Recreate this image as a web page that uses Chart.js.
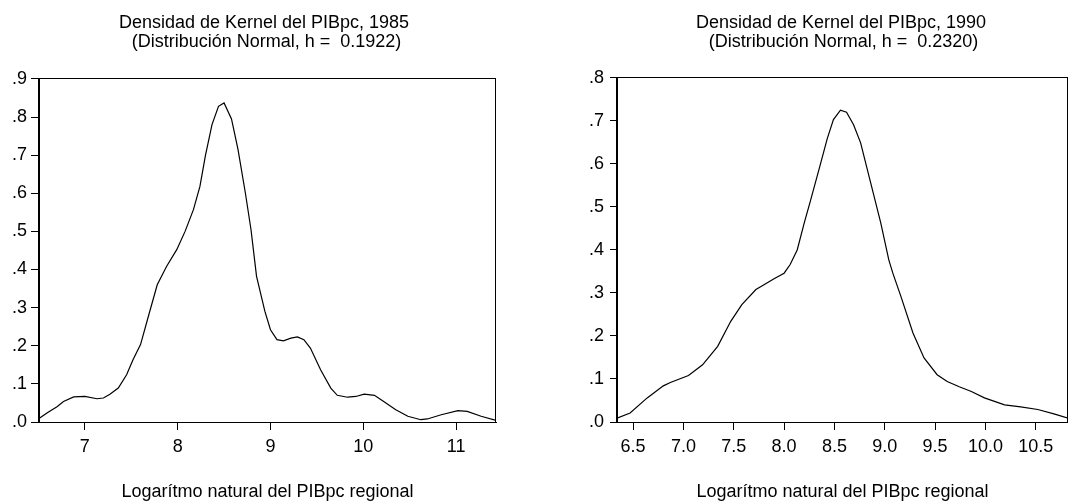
<!DOCTYPE html>
<html>
<head>
<meta charset="utf-8">
<script src="https://cdn.jsdelivr.net/npm/chart.js@4/dist/chart.umd.min.js"></script>
<style>
  html, body { margin: 0; padding: 0; background: #ffffff; }
  #wrap { position: relative; width: 1068px; height: 502px; overflow: hidden; background: #fff; }
  canvas { position: absolute; top: 0; }
</style>
</head>
<body>
<div id="wrap">
  <canvas id="c1" width="534" height="502" style="left:0px"></canvas>
  <canvas id="c2" width="614" height="502" style="left:534px"></canvas>
</div>
<script>
// ---- Data ----
const title1985 = ['Densidad de Kernel del PIBpc, 1985', ' (Distribución Normal, h =  0.1922)'];
const title1990 = ['Densidad de Kernel del PIBpc, 1990', ' (Distribución Normal, h =  0.2320)'];
const xAxisTitle = 'Logarítmo natural del PIBpc regional';

const x1985 = [6.506, 6.6, 6.7, 6.77, 6.88, 7.0, 7.13, 7.2, 7.27, 7.36, 7.45, 7.52, 7.6, 7.69, 7.78, 7.88, 7.99,
  8.08, 8.17, 8.24, 8.30, 8.37, 8.44, 8.50, 8.58, 8.65, 8.73, 8.79, 8.85, 8.94, 9.0, 9.07, 9.14, 9.22, 9.29, 9.36,
  9.43, 9.54, 9.65, 9.72, 9.83, 9.92, 10.01, 10.12, 10.22, 10.35, 10.48, 10.62, 10.69, 10.84, 11.02, 11.12, 11.27, 11.43];
const y1985 = [0.009, 0.025, 0.04, 0.054, 0.066, 0.067, 0.061, 0.063, 0.073, 0.089, 0.124, 0.164, 0.203, 0.282, 0.36, 0.408, 0.452,
  0.50, 0.557, 0.618, 0.70, 0.78, 0.828, 0.837, 0.795, 0.715, 0.60, 0.505, 0.382, 0.29, 0.242, 0.216, 0.213, 0.22, 0.223, 0.216,
  0.194, 0.137, 0.089, 0.07, 0.065, 0.067, 0.073, 0.07, 0.054, 0.032, 0.015, 0.006, 0.008, 0.019, 0.030, 0.028, 0.015, 0.004];

const x1990 = [6.34, 6.47, 6.64, 6.80, 6.87, 7.05, 7.19, 7.34, 7.47, 7.58, 7.72, 7.80, 7.90, 8.0, 8.06, 8.13, 8.20, 8.26,
  8.35, 8.43, 8.49, 8.56, 8.62, 8.69, 8.76, 8.86, 8.96, 9.04, 9.08, 9.16, 9.28, 9.39, 9.52, 9.62, 9.74, 9.86, 9.99,
  10.19, 10.35, 10.52, 10.68, 10.83];
const y1990 = [0.009, 0.021, 0.056, 0.084, 0.092, 0.108, 0.133, 0.176, 0.234, 0.273, 0.308, 0.319, 0.333, 0.346, 0.366, 0.40, 0.463, 0.513,
  0.59, 0.66, 0.703, 0.725, 0.72, 0.691, 0.649, 0.556, 0.463, 0.377, 0.346, 0.292, 0.207, 0.149, 0.11, 0.094, 0.082, 0.071, 0.056,
  0.040, 0.035, 0.029, 0.019, 0.008];

const xTicks1985 = [7, 8, 9, 10, 11];
const yTicks1985 = [0, 0.1, 0.2, 0.3, 0.4, 0.5, 0.6, 0.7, 0.8, 0.9];
const xTicks1990 = [6.5, 7.0, 7.5, 8.0, 8.5, 9.0, 9.5, 10.0, 10.5];
const yTicks1990 = [0, 0.1, 0.2, 0.3, 0.4, 0.5, 0.6, 0.7, 0.8];

// ---- Chart building ----
const FONT = '"Liberation Sans", Arial, Helvetica, sans-serif';

const framePlugin = {
  id: 'frame',
  afterDraw(chart) {
    const a = chart.chartArea, ctx = chart.ctx;
    ctx.save();
    ctx.strokeStyle = '#000';
    ctx.lineWidth = 1;
    const l = Math.round(a.left) - 0.5, t = Math.round(a.top) - 0.5;
    const r = Math.round(a.right) - 0.5, b = Math.round(a.bottom) + 0.5;
    ctx.strokeRect(l, t, r - l, b - t);
    ctx.restore();
  }
};

function makeChart(id, cfg) {
  const pts = cfg.xs.map((x, i) => ({ x: x, y: cfg.ys[i] }));
  return new Chart(document.getElementById(id), {
    type: 'line',
    data: { datasets: [{ data: pts, borderColor: '#000', borderWidth: 1.2, pointRadius: 0, tension: 0, fill: false }] },
    options: {
      responsive: false,
      animation: false,
      devicePixelRatio: 1,
      layout: { padding: { left: 0, right: cfg.padRight, top: 0, bottom: 0 } },
      plugins: {
        legend: { display: false },
        tooltip: { enabled: false },
        title: {
          display: true,
          text: cfg.title,
          color: '#000',
          font: { family: FONT, size: 18, weight: 'normal', lineHeight: 1.08 },
          padding: { top: 13, bottom: cfg.titleBottom }
        }
      },
      scales: {
        x: {
          type: 'linear',
          min: cfg.xmin, max: cfg.xmax,
          afterBuildTicks(s) { s.ticks = cfg.xTicks.map(v => ({ value: v })); },
          afterFit(s) { s.height = 80; },
          grid: { drawOnChartArea: false, drawTicks: true, tickLength: 8, tickColor: '#000', color: '#000' },
          border: { display: true, color: '#000', width: 1 },
          ticks: {
            color: '#000', padding: 8, maxRotation: 0, autoSkip: false,
            font: { family: FONT, size: 18, lineHeight: 1 },
            callback: cfg.xFmt
          },
          title: { display: true, text: xAxisTitle, color: '#000', font: { family: FONT, size: 18, lineHeight: 1 }, padding: { top: 0, bottom: 1 } }
        },
        y: {
          type: 'linear',
          position: 'left',
          min: 0, max: cfg.ymax,
          afterBuildTicks(s) { s.ticks = cfg.yTicks.map(v => ({ value: v })); },
          afterFit(s) { s.width = cfg.yWidth; },
          grid: { drawOnChartArea: false, drawTicks: true, tickLength: cfg.yTickLen, tickColor: '#000', color: '#000' },
          border: { display: true, color: '#000', width: 1 },
          ticks: {
            color: '#000', padding: cfg.yPad, autoSkip: false,
            font: { family: FONT, size: 18, lineHeight: 1 },
            callback: v => v.toFixed(1).replace(/^0/, '')
          }
        },
        // empty spacer on the right so the full-width title is centred like the reference
        spacer: {
          type: 'linear',
          position: 'right',
          display: true,
          grid: { display: false, drawTicks: false },
          border: { display: false },
          ticks: { display: false },
          afterFit(s) { s.width = cfg.spacer; }
        }
      }
    },
    plugins: [framePlugin]
  });
}

makeChart('c1', {
  xs: x1985, ys: y1985, title: title1985,
  xTicks: xTicks1985, yTicks: yTicks1985,
  xmin: 6.506, xmax: 11.43, ymax: 0.9,
  yWidth: 39, yTickLen: 8, yPad: 4,
  padRight: 6, spacer: 32, titleBottom: 27,
  xFmt: v => String(v)
});

makeChart('c2', {
  xs: x1990, ys: y1990, title: title1990,
  xTicks: xTicks1990, yTicks: yTicks1990,
  xmin: 6.34, xmax: 10.82, ymax: 0.8,
  yWidth: 83, yTickLen: 7, yPad: 6,
  padRight: 0, spacer: 80, titleBottom: 26,
  xFmt: v => v.toFixed(1)
});
</script>
</body>
</html>
